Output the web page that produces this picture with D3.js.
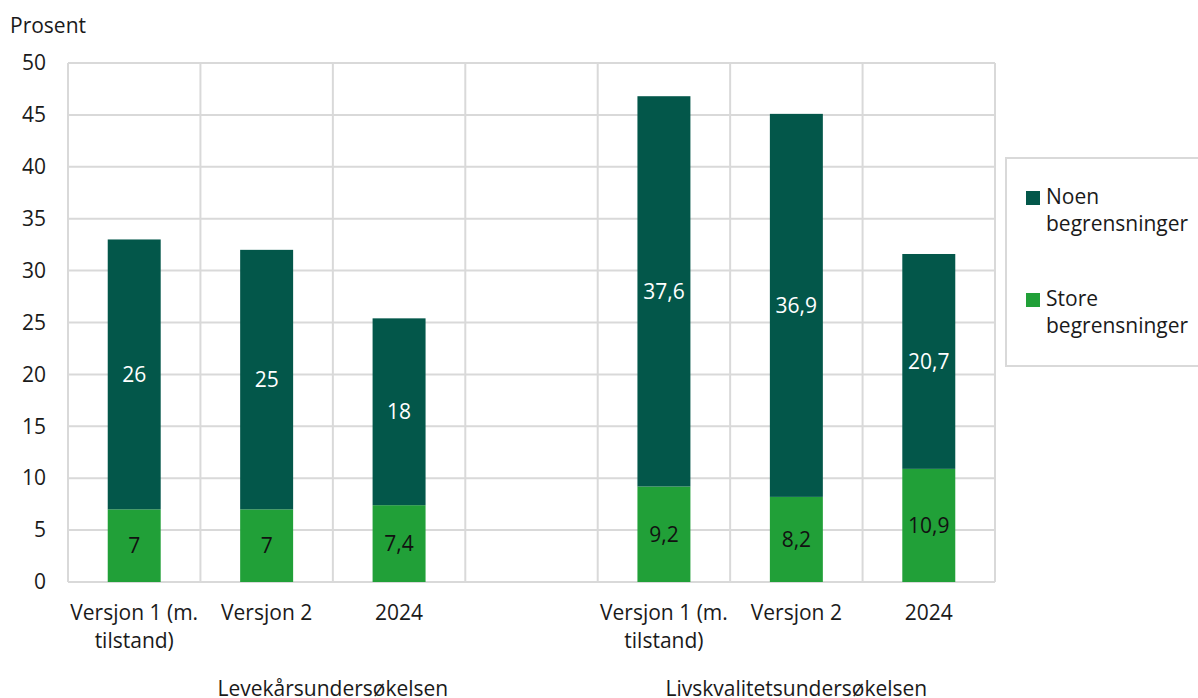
<!DOCTYPE html>
<html>
<head>
<meta charset="utf-8">
<script src="https://cdn.jsdelivr.net/npm/d3@7"></script>
<style>
  html, body { margin: 0; padding: 0; background: #fff; }
  svg { display: block; font-family: "Open Sans", sans-serif; }
</style>
</head>
<body>
<svg id="chart" width="1198" height="698"></svg>
<script>
// Data
const categories = ["L1", "L2", "L3", "gap", "Q1", "Q2", "Q3"];
const categoryLabels = [["Versjon 1 (m.", "tilstand)"], ["Versjon 2"], ["2024"], [], ["Versjon 1 (m.", "tilstand)"], ["Versjon 2"], ["2024"]];
const storeValues = [7, 7, 7.4, null, 9.2, 8.2, 10.9];
const noenValues = [26, 25, 18, null, 37.6, 36.9, 20.7];
const seriesNames = ["Noen begrensninger", "Store begrensninger"];
const groupLabels = ["Levekårsundersøkelsen", "Livskvalitetsundersøkelsen"];
const groupSpans = [["L1", "gap"], ["Q1", "Q3"]];
const yTicks = [0, 5, 10, 15, 20, 25, 30, 35, 40, 45, 50];

const colNoen = "#03574a";
const colStore = "#21a038";
const gridCol = "#d9d9d9";
const textCol = "#1a1a1a";
const FS = 21;
const fmt = v => String(v).replace(".", ",");

const svg = d3.select("#chart");
const margin = { left: 68, right: 203, top: 63, bottom: 116 };
const W = 1198, H = 698;

const x = d3.scaleBand().domain(categories).range([margin.left, W - margin.right]).paddingInner(0).paddingOuter(0);
const y = d3.scaleLinear().domain([0, 50]).range([H - margin.bottom, margin.top]);
const barW = x.bandwidth() * 0.4;

// horizontal gridlines
svg.append("g").selectAll("line").data(yTicks).join("line")
  .attr("x1", margin.left).attr("x2", W - margin.right)
  .attr("y1", d => y(d)).attr("y2", d => y(d))
  .attr("stroke", gridCol).attr("stroke-width", 2);

// vertical gridlines at band edges
const edges = categories.map(c => x(c)).concat([x(categories[categories.length - 1]) + x.bandwidth()]);
svg.append("g").selectAll("line").data(edges).join("line")
  .attr("x1", d => d).attr("x2", d => d)
  .attr("y1", y(50)).attr("y2", y(0))
  .attr("stroke", gridCol).attr("stroke-width", 2);

// y axis labels
const yAxis = d3.axisLeft(y).tickValues(yTicks).tickSize(0).tickPadding(22).tickFormat(d => d);
const yg = svg.append("g").attr("transform", `translate(${margin.left},0)`).call(yAxis);
yg.select(".domain").remove();
yg.selectAll("text").attr("font-size", FS).attr("fill", textCol).attr("font-family", "Open Sans");

// y title
svg.append("text").attr("x", 10).attr("y", 33).attr("font-size", FS).attr("fill", textCol).text("Prosent");

// stacked data
const rows = categories.map((c, i) => ({ cat: c, store: storeValues[i], noen: noenValues[i] })).filter(d => d.store != null);
const stack = d3.stack().keys(["store", "noen"])(rows);
const colors = { store: colStore, noen: colNoen };
const labelColors = { store: "#111", noen: "#fff" };

stack.forEach(layer => {
  const g = svg.append("g");
  g.selectAll("rect").data(layer).join("rect")
    .attr("x", d => x(d.data.cat) + (x.bandwidth() - barW) / 2)
    .attr("width", barW)
    .attr("y", d => y(d[1]))
    .attr("height", d => y(d[0]) - y(d[1]))
    .attr("fill", colors[layer.key]);
  g.selectAll("text").data(layer).join("text")
    .attr("x", d => x(d.data.cat) + x.bandwidth() / 2)
    .attr("y", d => (y(d[0]) + y(d[1])) / 2)
    .attr("dy", "0.35em")
    .attr("text-anchor", "middle")
    .attr("font-size", FS)
    .attr("fill", labelColors[layer.key])
    .text(d => fmt(d.data[layer.key]));
});

// category labels
categories.forEach((c, i) => {
  const t = svg.append("text").attr("text-anchor", "middle").attr("font-size", FS).attr("fill", textCol);
  categoryLabels[i].forEach((line, j) => {
    t.append("tspan").attr("x", x(c) + x.bandwidth() / 2).attr("y", 620 + j * 28).text(line);
  });
});

// group labels
groupLabels.forEach((g, i) => {
  const [a, b] = groupSpans[i];
  const cx = (x(a) + x(b) + x.bandwidth()) / 2;
  svg.append("text").attr("x", cx).attr("y", 696).attr("text-anchor", "middle")
    .attr("font-size", FS).attr("fill", textCol).text(g);
});

// legend
const lg = svg.append("g");
lg.append("rect").attr("x", 1006).attr("y", 158).attr("width", 210).attr("height", 208)
  .attr("fill", "#fff").attr("stroke", gridCol).attr("stroke-width", 2);
const legendItems = [
  { name: seriesNames[0], color: colNoen, lines: ["Noen", "begrensninger"] },
  { name: seriesNames[1], color: colStore, lines: ["Store", "begrensninger"] }
];
legendItems.forEach((it, i) => {
  const y0 = 191 + i * 102;
  lg.append("rect").attr("x", 1026).attr("y", y0).attr("width", 14).attr("height", 14).attr("fill", it.color);
  const t = lg.append("text").attr("font-size", FS).attr("fill", textCol);
  it.lines.forEach((l, j) => t.append("tspan").attr("x", 1046).attr("y", y0 + 13 + j * 27).text(l));
});
</script>
</body>
</html>
